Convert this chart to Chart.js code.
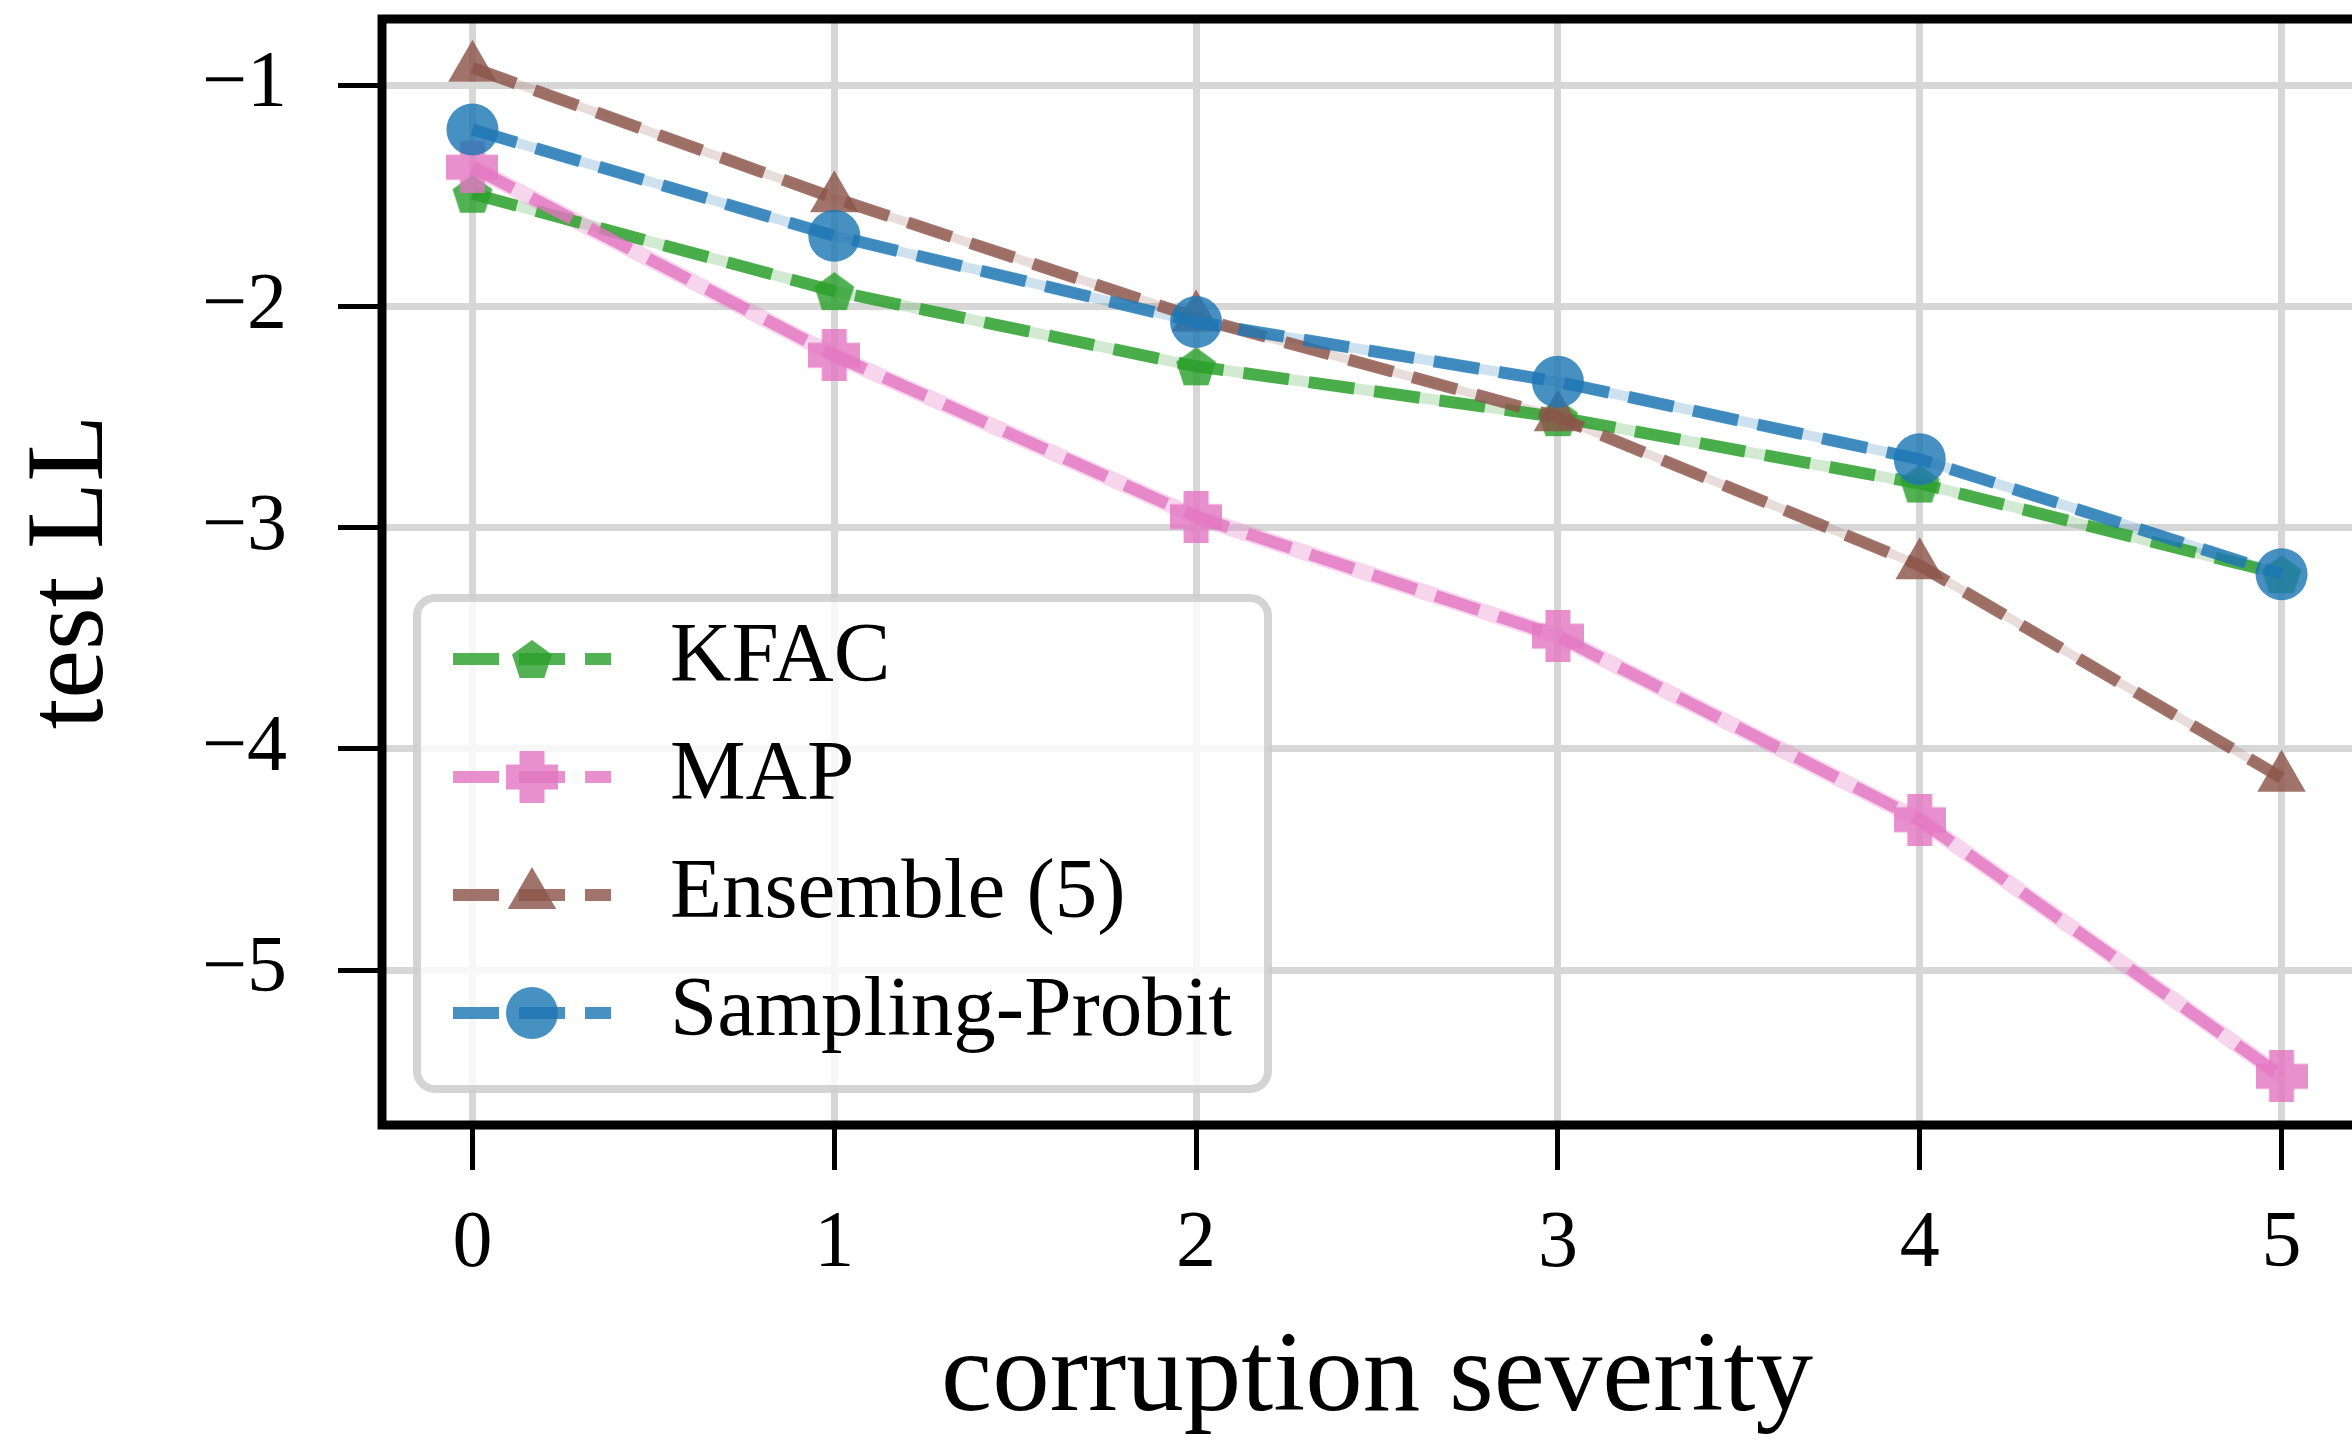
<!DOCTYPE html>
<html><head><meta charset="utf-8">
<script src="https://cdn.jsdelivr.net/npm/chart.js@4.4.1/dist/chart.umd.min.js"></script>
<style>
html,body{margin:0;padding:0;background:#fff;overflow:hidden;width:2352px;height:1449px;}
#wrap{position:absolute;left:0;top:-9px;width:2400px;height:1458px;}
</style>
</head><body><div id="wrap"><canvas id="c" width="2400" height="1458"></canvas></div>
<script>
// ---- data ----
const severity = [0, 1, 2, 3, 4, 5];
const kfac     = [-1.49, -1.93, -2.27, -2.50, -2.80, -3.21];
const mapLL    = [-1.37, -2.22, -2.95, -3.49, -4.32, -5.48];
const ensemble = [-0.92, -1.51, -2.05, -2.50, -3.17, -4.13];
const probit   = [-1.20, -1.68, -2.07, -2.34, -2.69, -3.21];
const seriesNames = ['KFAC', 'MAP', 'Ensemble (5)', 'Sampling-Probit'];
const xTicks = [0, 1, 2, 3, 4, 5];
const yTicks = [-5, -4, -3, -2, -1];
const xLabel = 'corruption severity';
const yLabel = 'test LL';

// ---- styling ----
const FONT = '"Liberation Serif", "DejaVu Serif", serif';
Chart.defaults.font.family = FONT;
Chart.defaults.color = '#000';

const col = {
  green: 'rgba(44,160,44,0.82)', pink: 'rgba(227,119,194,0.82)',
  brown: 'rgba(140,86,75,0.82)', blue: 'rgba(31,119,180,0.82)'
};
const band = {
  green: 'rgba(44,160,44,0.22)', pink: 'rgba(227,119,194,0.3)',
  brown: 'rgba(140,86,75,0.2)', blue: 'rgba(31,119,180,0.22)'
};

function pentagonImg(color, r) {
  const s = Math.ceil(2 * r + 4);
  const c = document.createElement('canvas'); c.width = s; c.height = s;
  const g = c.getContext('2d'); g.fillStyle = color; g.beginPath();
  for (let i = 0; i < 5; i++) {
    const a = -Math.PI / 2 + i * 2 * Math.PI / 5;
    const px = s / 2 + r * Math.cos(a), py = s / 2 + 2 + r * Math.sin(a);
    if (i === 0) g.moveTo(px, py); else g.lineTo(px, py);
  }
  g.closePath(); g.fill(); return c;
}
function plusImg(color, size, arm) {
  const s = size;
  const c = document.createElement('canvas'); c.width = s; c.height = s;
  const g = c.getContext('2d'); g.fillStyle = color;
  const a = (s - arm) / 2, b = (s + arm) / 2;
  g.beginPath();
  g.moveTo(a, 0); g.lineTo(b, 0); g.lineTo(b, a); g.lineTo(s, a); g.lineTo(s, b);
  g.lineTo(b, b); g.lineTo(b, s); g.lineTo(a, s); g.lineTo(a, b); g.lineTo(0, b);
  g.lineTo(0, a); g.lineTo(a, a); g.closePath(); g.fill(); return c;
}

const DASH = [46, 20];
const LW = 12;
function pts(arr) { return severity.map((x, i) => ({ x: x, y: arr[i] })); }
function mainDs(label, arr, color, style, radius, order) {
  return {
    label: label, data: pts(arr), borderColor: color, borderWidth: LW, borderDash: DASH,
    pointStyle: style, pointRadius: radius, pointHoverRadius: radius,
    pointBackgroundColor: color, pointBorderWidth: 0, pointBorderColor: color,
    fill: false, tension: 0, order: order, isMain: true
  };
}
function bandDs(arr, color, w, order) {
  return {
    label: '', data: pts(arr), borderColor: color, borderWidth: w, pointRadius: 0,
    pointHoverRadius: 0, fill: false, tension: 0, order: order, isMain: false
  };
}

const datasets = [
  bandDs(kfac, band.green, 11, 14), bandDs(mapLL, band.pink, 16, 13),
  bandDs(ensemble, band.brown, 9, 12), bandDs(probit, band.blue, 10, 11),
  mainDs(seriesNames[0], kfac, col.green, pentagonImg(col.green, 21), 21, 4),
  mainDs(seriesNames[1], mapLL, col.pink, plusImg(col.pink, 52, 25), 26, 3),
  mainDs(seriesNames[2], ensemble, col.brown, 'triangle', 28, 2),
  mainDs(seriesNames[3], probit, col.blue, 'circle', 26, 1)
];

const framePlugin = {
  id: 'frame',
  afterDatasetsDraw(chart) {
    const { ctx, chartArea: a } = chart;
    ctx.save(); ctx.strokeStyle = '#000'; ctx.lineWidth = 9; ctx.setLineDash([]);
    ctx.strokeRect(a.left, a.top, a.right - a.left, a.bottom - a.top);
    ctx.restore();
  }
};

// legend box geometry (page coordinates are canvas coordinates + 9)
const legendPlugin = {
  id: 'mplLegend',
  afterDraw(chart) {
    const ctx = chart.ctx;
    const off = chart.chartArea.top - 18;
    ctx.save();
    const bx = 417, by = 597 + off, bw = 851, bh = 491;
    ctx.beginPath(); ctx.roundRect(bx, by, bw, bh, 18);
    ctx.fillStyle = 'rgba(255,255,255,0.8)'; ctx.fill();
    ctx.lineWidth = 8; ctx.strokeStyle = 'rgba(204,204,204,0.85)'; ctx.stroke();
    const mains = chart.data.datasets.filter(d => d.isMain);
    mains.forEach((d, i) => {
      const y = 658 + off + i * 118;
      ctx.setLineDash(DASH); ctx.lineWidth = LW; ctx.strokeStyle = d.borderColor;
      ctx.lineCap = 'butt';
      ctx.beginPath(); ctx.moveTo(453, y); ctx.lineTo(611, y); ctx.stroke();
      ctx.setLineDash([]);
      ctx.fillStyle = d.pointBackgroundColor;
      Chart.helpers.drawPoint(ctx, { pointStyle: d.pointStyle, radius: d.pointRadius, borderWidth: 0, rotation: 0 }, 532, y);
      ctx.fillStyle = '#000'; ctx.font = '85px ' + FONT; ctx.textBaseline = 'middle'; ctx.textAlign = 'left';
      ctx.fillText(d.label, 670, y);
    });
    ctx.restore();
  }
};

const fmt = v => (v < 0 ? '\u2212' + Math.abs(v) : String(v));

new Chart(document.getElementById('c'), {
  type: 'line',
  data: { datasets: datasets },
  options: {
    responsive: false, animation: false, events: [],
    layout: { padding: { top: 18, right: 28, bottom: 0, left: 0 } },
    plugins: { legend: { display: false }, tooltip: { enabled: false } },
    scales: {
      x: {
        type: 'linear', min: -0.25, max: 5.25,
        afterBuildTicks: ax => { ax.ticks = xTicks.map(v => ({ value: v })); },
        afterFit: ax => { ax.height = 324; ax.paddingLeft = 0; ax.paddingRight = 0; },
        ticks: { font: { size: 80 }, padding: 27, callback: fmt, maxRotation: 0, autoSkip: false },
        grid: { color: '#d7d7d7', lineWidth: 7, tickColor: '#000', tickWidth: 5, tickLength: 45 },
        border: { display: false },
        title: { display: true, text: xLabel, font: { size: 115 }, padding: { top: 0, bottom: 0 } }
      },
      y: {
        type: 'linear', min: -5.70, max: -0.70,
        afterBuildTicks: ax => { ax.ticks = yTicks.map(v => ({ value: v })); },
        afterFit: ax => { ax.width = 382; ax.paddingTop = 0; ax.paddingBottom = 0; },
        ticks: { font: { size: 80 }, padding: 51, callback: fmt },
        grid: { color: '#d7d7d7', lineWidth: 7, tickColor: '#000', tickWidth: 5, tickLength: 44 },
        border: { display: false },
        title: { display: true, text: yLabel, font: { size: 110 }, padding: { top: 7, bottom: 0 } }
      }
    }
  },
  plugins: [framePlugin, legendPlugin]
});
</script>
</body></html>
